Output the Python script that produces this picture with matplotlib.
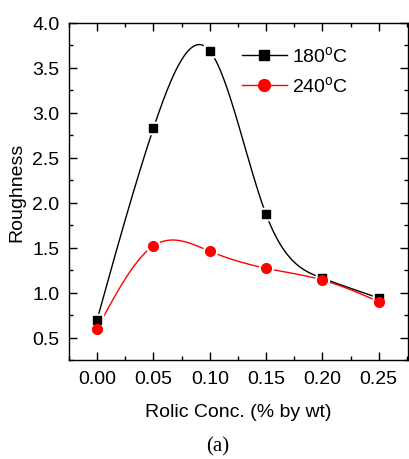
import numpy as np
import matplotlib
matplotlib.use("Agg")
import matplotlib.pyplot as plt
from matplotlib.ticker import MultipleLocator

# Roughness vs Rolic concentration
conc = [0.00, 0.05, 0.10, 0.15, 0.20, 0.25]
rough_180 = [0.70, 2.83, 3.69, 1.87, 1.16, 0.94]
rough_240 = [0.60, 1.52, 1.46, 1.27, 1.14, 0.90]
labels = ["180$^{\\mathregular{o}}$C", "240$^{\\mathregular{o}}$C"]


def natural_spline(x, y, n=300):
    # smooth connecting line through the points (natural cubic spline)
    x = np.asarray(x, float)
    y = np.asarray(y, float)
    k = len(x)
    h = np.diff(x)
    A = np.zeros((k, k))
    b = np.zeros(k)
    A[0, 0] = A[-1, -1] = 1
    for i in range(1, k - 1):
        A[i, i - 1] = h[i - 1]
        A[i, i] = 2 * (h[i - 1] + h[i])
        A[i, i + 1] = h[i]
        b[i] = 3 * ((y[i + 1] - y[i]) / h[i] - (y[i] - y[i - 1]) / h[i - 1])
    c = np.linalg.solve(A, b)
    xs = np.linspace(x[0], x[-1], n)
    idx = np.clip(np.searchsorted(x, xs) - 1, 0, k - 2)
    dx = xs - x[idx]
    bb = (y[idx + 1] - y[idx]) / h[idx] - h[idx] * (2 * c[idx] + c[idx + 1]) / 3
    d = (c[idx + 1] - c[idx]) / (3 * h[idx])
    ys = y[idx] + bb * dx + c[idx] * dx ** 2 + d * dx ** 3
    return xs, ys


plt.rcParams['font.family'] = ['Liberation Sans', 'DejaVu Sans']
plt.rcParams['mathtext.fontset'] = 'custom'
plt.rcParams['mathtext.rm'] = 'Liberation Sans'

FS = 14

fig = plt.figure(figsize=(4.09, 4.60), dpi=100)
ax = fig.add_axes([69 / 409, 1 - 361 / 460, 339 / 409, 337 / 460])

for ys, col, mk, lab in [(rough_180, 'black', 's', labels[0]),
                         (rough_240, 'red', 'o', labels[1])]:
    sx, sy = natural_spline(conc, ys)
    ax.plot(sx, sy, color=col, lw=1.0, zorder=2)
    ax.plot(conc, ys, ls='none', marker=mk, ms=8.5 if mk == 'o' else 7.5,
            mfc='white', mec='white', mew=2.5, zorder=3)
    ax.plot(conc, ys, ls='none', marker=mk, ms=7 if mk == 'o' else 6,
            mfc=col, mec=col, mew=1.0, zorder=4)
    ax.plot([], [], color=col, lw=1.0, marker=mk, ms=8.5 if mk == 'o' else 7.5,
            mfc=col, mec=col, label=lab)

ax.set_xlim(-0.025, 0.276)
ax.set_ylim(0.25, 4.0)
ax.xaxis.set_major_locator(MultipleLocator(0.05))
ax.xaxis.set_minor_locator(MultipleLocator(0.025))
ax.yaxis.set_major_locator(MultipleLocator(0.5))
ax.yaxis.set_minor_locator(MultipleLocator(0.25))
ax.xaxis.set_major_formatter(plt.FuncFormatter(lambda v, p: "%.2f" % v))
ax.yaxis.set_major_formatter(plt.FuncFormatter(lambda v, p: "%.1f" % v))
ax.tick_params(which='both', direction='in', top=True, right=True,
               labelsize=FS, width=1.0)
ax.tick_params(which='major', length=6, pad=7)
ax.tick_params(which='minor', length=3)
for s in ax.spines.values():
    s.set_linewidth(1.0)

ax.set_xlabel("Rolic Conc. (% by wt)", fontsize=FS, labelpad=12)
ax.set_ylabel("Roughness", fontsize=FS, labelpad=5)

ax.legend(loc='upper left', bbox_to_anchor=(0.51, 0.935), frameon=False,
          fontsize=FS, handlelength=2.3, handletextpad=0.3,
          labelspacing=0.5, borderaxespad=0, borderpad=0)

fig.text(218 / 409, 1 - 447 / 460, "(a)", family='Liberation Serif',
         fontsize=15, ha='center', va='center')

fig.savefig("out.png", dpi=100)
